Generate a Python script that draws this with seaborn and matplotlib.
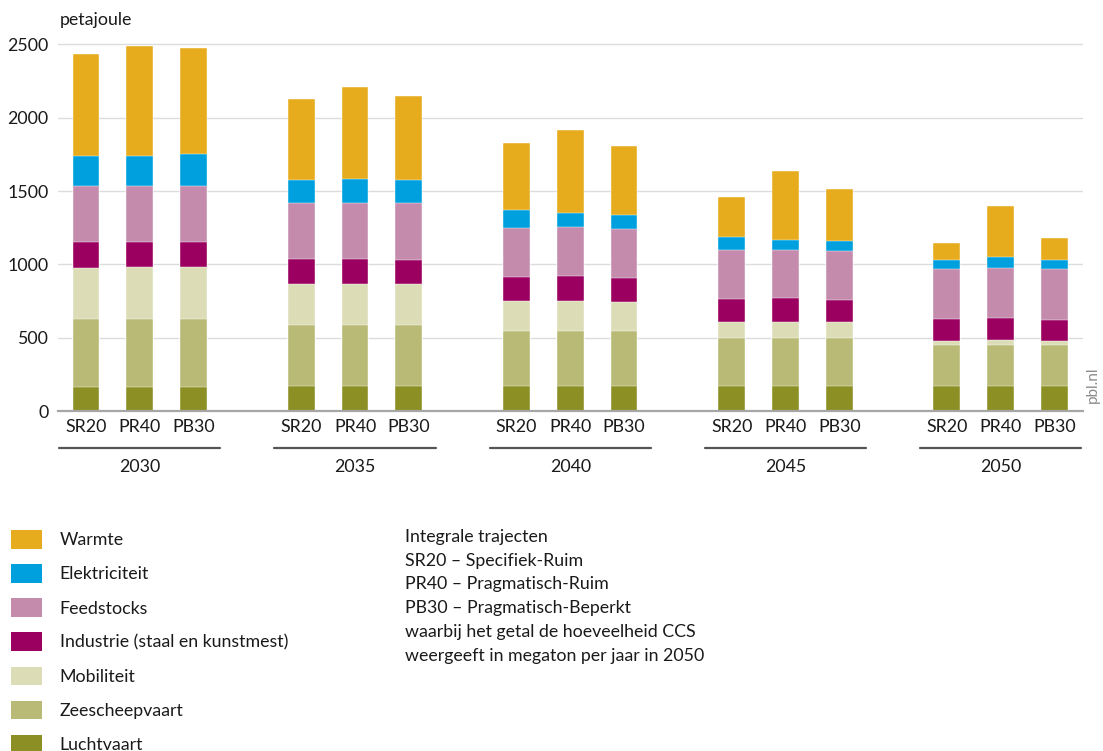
import matplotlib.pyplot as plt
import matplotlib.transforms as mtransforms
from matplotlib.patches import Patch
import numpy as np
import seaborn as sns

# --- Data ---
years = ["2030", "2035", "2040", "2045", "2050"]
scenarios = ["SR20", "PR40", "PB30"]

# one value per bar: for each year SR20, PR40, PB30 (petajoule)
luchtvaart = [166, 166, 166, 171, 171, 171, 168, 168, 168, 168, 168, 168, 171, 171, 171]
zeescheepvaart = [459, 459, 459, 418, 418, 418, 376, 376, 376, 328, 328, 328, 277, 277, 277]
mobiliteit = [353, 355, 355, 277, 277, 277, 204, 204, 200, 109, 114, 109, 32, 39, 29]
industrie = [172, 170, 170, 169, 169, 164, 169, 173, 166, 159, 163, 155, 145, 150, 146]
feedstocks = [387, 387, 387, 380, 380, 385, 334, 332, 332, 337, 323, 331, 341, 338, 343]
elektriciteit = [205, 202, 214, 161, 170, 161, 118, 98, 91, 82, 73, 71, 62, 73, 62]
warmte = [689, 751, 725, 550, 625, 572, 459, 563, 477, 277, 466, 355, 116, 353, 152]

sector_names = ["Luchtvaart", "Zeescheepvaart", "Mobiliteit",
                "Industrie (staal en kunstmest)", "Feedstocks",
                "Elektriciteit", "Warmte"]
sector_values = [luchtvaart, zeescheepvaart, mobiliteit, industrie,
                 feedstocks, elektriciteit, warmte]
sector_colors = ["#8C9024", "#B8BA76", "#DCDCB6", "#9B0060",
                 "#C48BAD", "#00A0DE", "#E6AC1E"]

# --- Style ---
sns.set_theme(style="white")
plt.rcParams["font.family"] = ["Lato", "DejaVu Sans"]
FS = 12.8
TEXT_COLOR = "#1a1a1a"

fig = plt.figure(figsize=(11.03, 7.51), dpi=100)
ax = fig.add_axes([58 / 1103, 1 - 411 / 751, (1083 - 58) / 1103, (411 - 41.4) / 751])

# bar positions: 3 bars per year, one empty slot between years
positions = [4 * g + j for g in range(len(years)) for j in range(len(scenarios))]

# stacked bars: draw cumulative totals from the top layer down
cumulative = np.cumsum(np.array(sector_values), axis=0)
for i in reversed(range(len(sector_names))):
    sns.barplot(x=positions, y=cumulative[i], native_scale=True, width=0.5,
                color=sector_colors[i], saturation=1, errorbar=None,
                edgecolor="white", linewidth=0.3, ax=ax)

# --- Axes formatting ---
ax.set_xlim(-0.52, 18.53)
ax.set_ylim(0, 2520)
ax.set_yticks([0, 500, 1000, 1500, 2000, 2500])
ax.yaxis.grid(True, color="#DCDCDC", linewidth=1)
ax.set_axisbelow(True)
for side in ["top", "right", "left"]:
    ax.spines[side].set_visible(False)
ax.spines["bottom"].set_color("#A6A6A6")
ax.spines["bottom"].set_linewidth(1.6)
ax.set_xticks(positions)
ax.set_xticklabels(scenarios * len(years))
ax.tick_params(axis="x", length=0, pad=6, labelsize=FS, colors=TEXT_COLOR)
ax.tick_params(axis="y", length=0, pad=7, labelsize=FS, colors=TEXT_COLOR)
ax.set_xlabel("")
ax.set_ylabel("")

# year group labels with underline
axh = 411 - 41.4
trans = mtransforms.blended_transform_factory(ax.transData, ax.transAxes)
for g, year in enumerate(years):
    x0 = 4 * g
    ax.plot([x0 - 0.5, x0 + 2.5], [-37 / axh, -37 / axh], color="#555555",
            linewidth=1.6, transform=trans, clip_on=False)
    ax.text(x0 + 1, -56 / axh, year, transform=trans, ha="center", va="center",
            fontsize=FS, color=TEXT_COLOR)

fig.text(60 / 1103, 1 - 20 / 751, "petajoule", ha="left", va="center",
         fontsize=FS, color=TEXT_COLOR)
fig.text(1093 / 1103, 1 - 385 / 751, "pbl.nl", rotation=90, ha="center",
         va="center", fontsize=11, color="#8A8A8A")

# legend (top layer first)
handles = [Patch(facecolor=sector_colors[i], edgecolor="none")
           for i in reversed(range(len(sector_names)))]
labels = [sector_names[i] for i in reversed(range(len(sector_names)))]
fig.legend(handles, labels, loc="upper left", bbox_to_anchor=(11 / 1103, 1 - 530 / 751),
           frameon=False, fontsize=FS, handlelength=1.74, handleheight=1.24,
           handletextpad=1.0, labelspacing=0.87, borderpad=0, borderaxespad=0,
           labelcolor=TEXT_COLOR)

note_lines = ["Integrale trajecten",
              "SR20 \u2013 Specifiek-Ruim",
              "PR40 \u2013 Pragmatisch-Ruim",
              "PB30 \u2013 Pragmatisch-Beperkt",
              "waarbij het getal de hoeveelheid CCS",
              "weergeeft in megaton per jaar in 2050"]
for k, line in enumerate(note_lines):
    fig.text(405 / 1103, 1 - (537 + 23.7 * k) / 751, line, ha="left", va="center",
             fontsize=FS, color=TEXT_COLOR)

fig.savefig("out.png", dpi=100)
